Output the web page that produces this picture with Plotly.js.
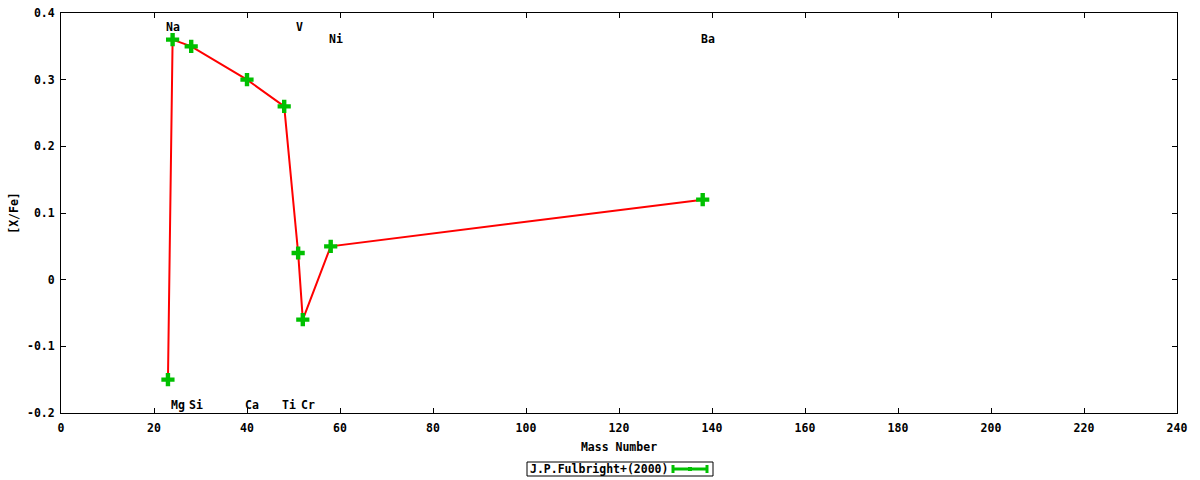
<!DOCTYPE html>
<html>
<head>
<meta charset="utf-8">
<script src="https://cdn.plot.ly/plotly-3.0.1.min.js"></script>
<style>
html,body{margin:0;padding:0;background:#fff;}
#chart{width:1200px;height:480px;}
</style>
</head>
<body>
<div id="chart"></div>
<script>
// Data
var massNumber = [23, 24, 28, 40, 48, 51, 52, 58, 138];
var xFe = [-0.15, 0.36, 0.35, 0.30, 0.26, 0.04, -0.06, 0.05, 0.12];

// Element labels
var labelNames = ['Na', 'V', 'Ni', 'Ba', 'Mg', 'Si', 'Ca', 'Ti', 'Cr'];
var labelMass = [23, 51, 58, 138, 24, 28, 40, 48, 52];
var labelY = [0.379, 0.379, 0.361, 0.361, -0.188, -0.188, -0.188, -0.188, -0.188];

var xTickVals = [0, 20, 40, 60, 80, 100, 120, 140, 160, 180, 200, 220, 240];
var yTickVals = [-0.2, -0.1, 0, 0.1, 0.2, 0.3, 0.4];
var yTickText = ['-0.2', '-0.1', '0', '0.1', '0.2', '0.3', '0.4'];

var seriesName = 'J.P.Fulbright+(2000)';

var FONT = {family: 'DejaVu Sans Mono', size: 11.5, color: '#000', weight: 'bold'};
var GREEN = '#00c000';

var traces = [
  {
    x: massNumber, y: xFe, type: 'scatter', mode: 'lines',
    line: {color: '#ff0000', width: 2}, showlegend: false, hoverinfo: 'skip'
  },
  {
    x: massNumber, y: xFe, type: 'scatter', mode: 'markers', name: seriesName,
    marker: {symbol: 'cross', size: 11, color: GREEN, line: {width: 0}},
    showlegend: false
  }
];

var annotations = labelNames.map(function (n, i) {
  return {
    x: labelMass[i], y: labelY[i], xref: 'x', yref: 'y', text: n,
    showarrow: false, xanchor: 'left', yanchor: 'middle', xshift: -4,
    font: FONT
  };
});

// legend (gnuplot style: text left, sample right)
var PL = 61, PR = 1177, PT = 13, PB = 413;
function px(v) { return (v - PL) / (PR - PL); }
function py(v) { return (PB - v) / (PB - PT); }
annotations.push({
  x: px(528), y: py(469), xref: 'paper', yref: 'paper', text: seriesName,
  showarrow: false, xanchor: 'left', yanchor: 'middle', font: FONT
});

var shapes = [
  {type: 'rect', xref: 'paper', yref: 'paper', x0: px(527), x1: px(713), y0: py(476), y1: py(462),
   line: {color: '#000', width: 1}, fillcolor: 'rgba(0,0,0,0)'},
  {type: 'line', xref: 'paper', yref: 'paper', x0: px(672), x1: px(708), y0: py(469), y1: py(469),
   line: {color: GREEN, width: 3}},
  {type: 'line', xref: 'paper', yref: 'paper', x0: px(673), x1: px(673), y0: py(465), y1: py(473),
   line: {color: GREEN, width: 3}},
  {type: 'line', xref: 'paper', yref: 'paper', x0: px(707), x1: px(707), y0: py(465), y1: py(473),
   line: {color: GREEN, width: 3}},
  {type: 'rect', xref: 'paper', yref: 'paper', x0: px(688), x1: px(692), y0: py(471), y1: py(467),
   line: {width: 0}, fillcolor: GREEN}
];

var axisCommon = {
  showgrid: false, zeroline: false, showline: true, linecolor: '#000', linewidth: 1,
  mirror: 'ticks', ticks: 'inside', ticklen: 5, tickcolor: '#000', tickwidth: 1,
  tickfont: FONT, fixedrange: true
};

var layout = {
  width: 1200, height: 480,
  margin: {l: PL, r: 1200 - PR, t: PT, b: 480 - PB},
  paper_bgcolor: '#fff', plot_bgcolor: '#fff',
  font: FONT,
  showlegend: false,
  xaxis: Object.assign({}, axisCommon, {
    range: [0, 240], tickmode: 'array', tickvals: xTickVals,
    ticklabelstandoff: 4,
    title: {text: 'Mass Number', font: FONT, standoff: 9}
  }),
  yaxis: Object.assign({}, axisCommon, {
    range: [-0.2, 0.4], tickmode: 'array', tickvals: yTickVals, ticktext: yTickText,
    ticklabelstandoff: 3,
    title: {text: '[X/Fe]', font: FONT, standoff: 5}
  }),
  annotations: annotations,
  shapes: shapes
};

Plotly.newPlot('chart', traces, layout, {staticPlot: true});
</script>
</body>
</html>
